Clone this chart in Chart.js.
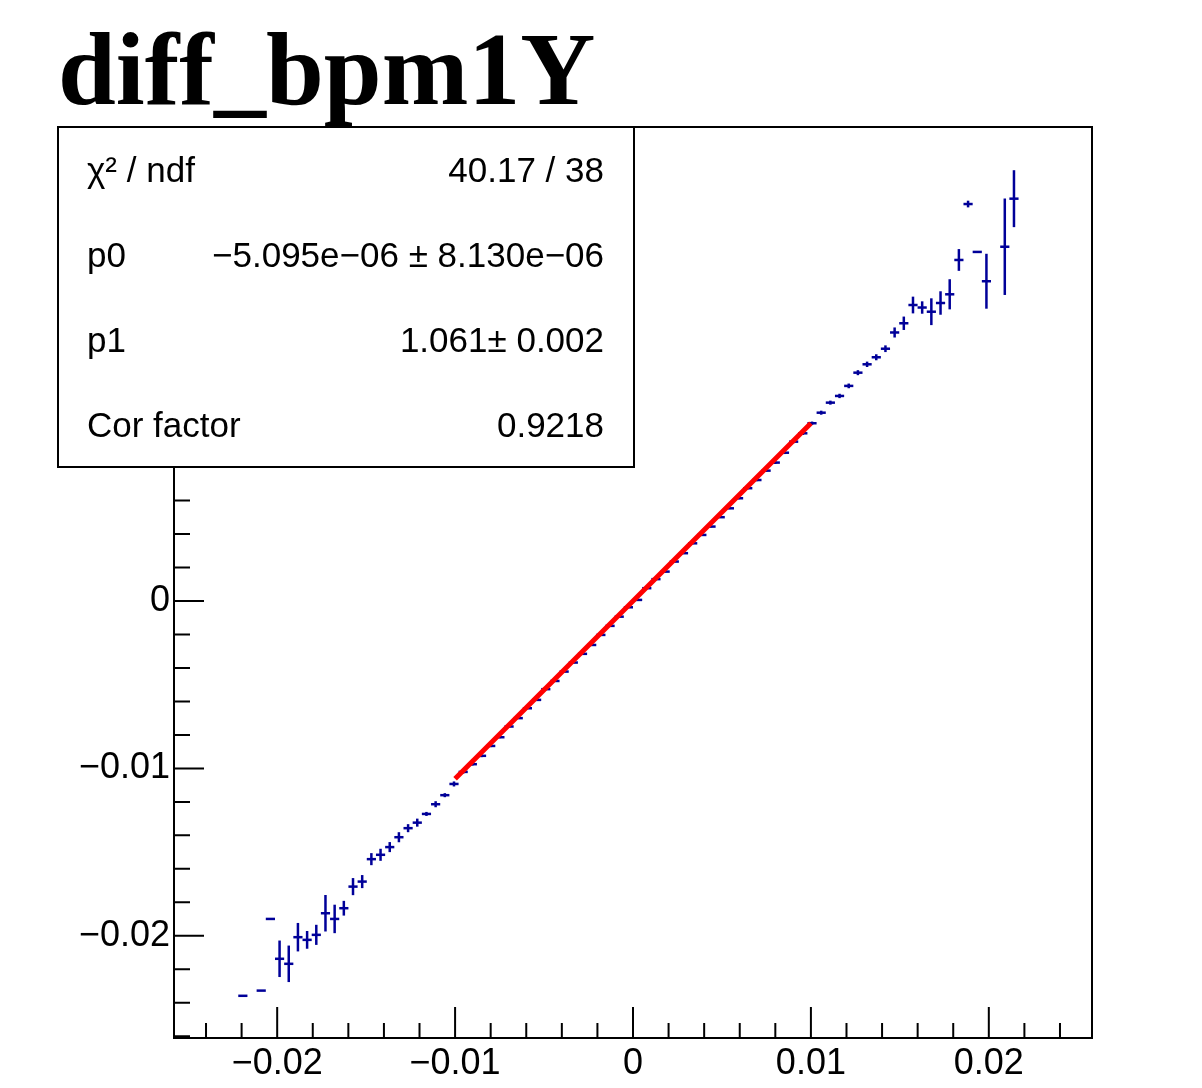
<!DOCTYPE html>
<html>
<head>
<meta charset="utf-8">
<script src="https://cdn.jsdelivr.net/npm/chart.js"></script>
<style>
  html, body { margin: 0; padding: 0; background: #fff; }
  #wrap { width: 1202px; height: 1088px; }
</style>
</head>
<body>
<div id="wrap"><canvas id="c" width="1202" height="1088"></canvas></div>
<script>
// histogram axis (profile with 100 bins)
const X_MIN = -0.0258, X_MAX = 0.0258, N_BINS = 100;
const Y_MIN = -0.0261, Y_MAX = 0.0283;

// filled bins: index, mean, error
const binIndex = [7, 9, 10, 11, 12, 13, 14, 15, 16, 17, 18, 19, 20, 21, 22, 23, 24, 25, 26, 27, 28, 29,
  30, 31, 32, 33, 34, 35, 36, 37, 38, 39, 40, 41, 42, 43, 44, 45, 46, 47, 48, 49,
  50, 51, 52, 53, 54, 55, 56, 57, 58, 59, 60, 61, 62, 63, 64, 65, 66, 67, 68, 69,
  70, 71, 72, 73, 74, 75, 76, 77, 78, 79, 80, 81, 82, 83, 84, 85, 86, 87, 88, 90, 91];
const binMean = [-0.02358, -0.02327, -0.01899, -0.02137, -0.02167, -0.02008, -0.02024, -0.01994, -0.01865,
  -0.01899, -0.01835, -0.01706, -0.01676, -0.01542, -0.01516, -0.01470, -0.01411, -0.01357, -0.01324,
  -0.01272, -0.01214, -0.01160,
  -0.01093, -0.01021, -0.00975, -0.00925, -0.00866, -0.00814, -0.00750, -0.00700, -0.00641, -0.00591,
  -0.00527, -0.00478, -0.00422, -0.00368, -0.00316, -0.00263, -0.00203, -0.00149, -0.00094, -0.00038,
  0.00006, 0.00076, 0.00130, 0.00175, 0.00235, 0.00285, 0.00344, 0.00394, 0.00444, 0.00500,
  0.00553, 0.00613, 0.00673, 0.00722, 0.00778, 0.00826, 0.00885, 0.00951, 0.01001, 0.01061,
  0.01124, 0.01184, 0.01224, 0.01284, 0.01363, 0.01413, 0.01455, 0.01506, 0.01603, 0.01658,
  0.01767, 0.01752, 0.01727, 0.01779, 0.01831, 0.02036, 0.02370, 0.02084, 0.01909, 0.02115, 0.02402];
const binErr = [0, 0, 0, 0.00109, 0.00109, 0.00085, 0.00053, 0.00060, 0.00109, 0.00085, 0.00044, 0.00051,
  0.00039, 0.00036, 0.00036, 0.00030, 0.00030, 0.00024, 0.00024, 0.00012, 0.00018, 0.00012,
  0.00015, 0.00010, 0.00008, 0.00008, 0.00007, 0.00006, 0.00006, 0.00005, 0.00005, 0.00005,
  0.00005, 0.00005, 0.00005, 0.00005, 0.00005, 0.00005, 0.00005, 0.00005, 0.00005, 0.00005,
  0.00005, 0.00005, 0.00005, 0.00005, 0.00005, 0.00005, 0.00005, 0.00005, 0.00005, 0.00005,
  0.00005, 0.00006, 0.00006, 0.00007, 0.00007, 0.00008, 0.00008, 0.00009, 0.00010, 0.00010,
  0.00012, 0.00012, 0.00013, 0.00014, 0.00015, 0.00016, 0.00018, 0.00020, 0.00030, 0.00040,
  0.00050, 0.00037, 0.00080, 0.00070, 0.00090, 0.00065, 0.00020, 0, 0.00164, 0.00288, 0.00170];

// pol1 fit
const fitRange = [-0.01, 0.01];
const fitPars = [-5.095e-06, 1.061];

const xMajor = [-0.02, -0.01, 0, 0.01, 0.02];
const yMajor = [-0.02, -0.01, 0, 0.01, 0.02];
const minorStep = 0.002;

const histTitle = "diff_bpm1Y";
const statLabels = ["\u03C7\u00B2 / ndf", "p0", "p1", "Cor factor"];
const statValues = ["40.17 / 38", "\u22125.095e\u221206 \u00B1 8.130e\u221206", "1.061\u00B1 0.002", "0.9218"];

const BLUE = "#000099";
const binW = (X_MAX - X_MIN) / N_BINS;

const profPts = binIndex.map((b, i) => ({ x: X_MIN + (b + 0.5) * binW, y: binMean[i], e: binErr[i] }));
const fitPts = fitRange.map(x => ({ x: x, y: fitPars[0] + fitPars[1] * x }));

function fmt(v) {
    if (Math.abs(v) < 1e-12) return "0";
    return (v < 0 ? "\u2212" : "") + String(+Math.abs(v).toFixed(4));
}

const rootStyle = {
    id: "rootStyle",
    beforeDatasetsDraw(chart) {
        // vertical error bars
        const { ctx, chartArea: a, scales: { x, y } } = chart;
        ctx.save();
        ctx.beginPath();
        ctx.rect(a.left, a.top, a.width, a.height);
        ctx.clip();
        ctx.strokeStyle = BLUE;
        ctx.lineWidth = 2.5;
        profPts.forEach(p => {
            if (!p.e) return;
            const px = x.getPixelForValue(p.x);
            ctx.beginPath();
            ctx.moveTo(px, y.getPixelForValue(p.y - p.e));
            ctx.lineTo(px, y.getPixelForValue(p.y + p.e));
            ctx.stroke();
        });
        ctx.restore();
    },
    afterDatasetsDraw(chart) {
        // frame and inward ticks
        const { ctx, chartArea: a, scales: { x, y } } = chart;
        ctx.save();
        ctx.strokeStyle = "#000";
        ctx.lineWidth = 2;
        ctx.strokeRect(a.left, a.top, a.width, a.height);
        ctx.beginPath();
        for (let k = Math.ceil(X_MIN / minorStep); k <= Math.floor(X_MAX / minorStep); k++) {
            const major = k % 5 === 0;
            const px = x.getPixelForValue(k * minorStep);
            ctx.moveTo(px, a.bottom);
            ctx.lineTo(px, a.bottom - (major ? 31 : 15));
        }
        for (let k = Math.ceil(Y_MIN / minorStep); k <= Math.floor(Y_MAX / minorStep); k++) {
            const major = k % 5 === 0;
            const py = y.getPixelForValue(k * minorStep);
            ctx.moveTo(a.left, py);
            ctx.lineTo(a.left + (major ? 30 : 16), py);
        }
        ctx.stroke();
        ctx.restore();
    },
    afterDraw(chart) {
        const { ctx } = chart;
        ctx.save();
        // stats box
        const bx = 58, by = 127, bw = 576, bh = 340;
        ctx.fillStyle = "#fff";
        ctx.fillRect(bx, by, bw, bh);
        ctx.strokeStyle = "#000";
        ctx.lineWidth = 2;
        ctx.strokeRect(bx, by, bw, bh);
        ctx.fillStyle = "#000";
        ctx.font = '35px "Liberation Sans", Arial, sans-serif';
        ctx.textBaseline = "middle";
        const rowH = bh / statLabels.length;
        statLabels.forEach((lab, i) => {
            const cy = by + rowH * (i + 0.5) + 3;
            ctx.textAlign = "left";
            ctx.fillText(lab, bx + 29, cy);
            ctx.textAlign = "right";
            ctx.fillText(statValues[i], bx + bw - 30, cy);
        });
        // title
        ctx.textAlign = "left";
        ctx.textBaseline = "alphabetic";
        ctx.font = 'bold 104px "Liberation Serif", "Times New Roman", serif';
        ctx.fillText(histTitle, 58, 104);
        ctx.restore();
    }
};

const tickFont = { family: '"Liberation Sans", Arial, sans-serif', size: 36 };

new Chart(document.getElementById("c"), {
    type: "scatter",
    data: {
        datasets: [
            {
                label: "fit",
                type: "line",
                data: fitPts,
                borderColor: "#ff0000",
                borderWidth: 5,
                pointRadius: 0,
                fill: false,
                order: 0
            },
            {
                label: "profile",
                data: profPts,
                pointStyle: "line",
                pointRadius: c => c.chart.chartArea ? c.chart.chartArea.width / N_BINS / 2 : 4.6,
                pointBorderWidth: 2.5,
                pointBorderColor: BLUE,
                pointBackgroundColor: BLUE,
                order: 1
            }
        ]
    },
    options: {
        responsive: false,
        animation: false,
        devicePixelRatio: 1,
        layout: { padding: { left: 0, top: 127, right: 110, bottom: 0 } },
        plugins: { legend: { display: false }, tooltip: { enabled: false } },
        scales: {
            x: {
                type: "linear",
                min: X_MIN,
                max: X_MAX,
                grid: { display: false, drawTicks: false },
                border: { display: false },
                afterBuildTicks: s => { s.ticks = xMajor.map(v => ({ value: v })); },
                afterFit: s => { s.height = 50; },
                ticks: { font: tickFont, color: "#000", padding: 4, maxRotation: 0, autoSkip: false, callback: fmt }
            },
            y: {
                type: "linear",
                min: Y_MIN,
                max: Y_MAX,
                grid: { display: false, drawTicks: false },
                border: { display: false },
                afterBuildTicks: s => { s.ticks = yMajor.map(v => ({ value: v })); },
                afterFit: s => { s.width = 174; },
                ticks: { font: tickFont, color: "#000", padding: 4, autoSkip: false, callback: fmt }
            }
        }
    },
    plugins: [rootStyle]
});
</script>
</body>
</html>
